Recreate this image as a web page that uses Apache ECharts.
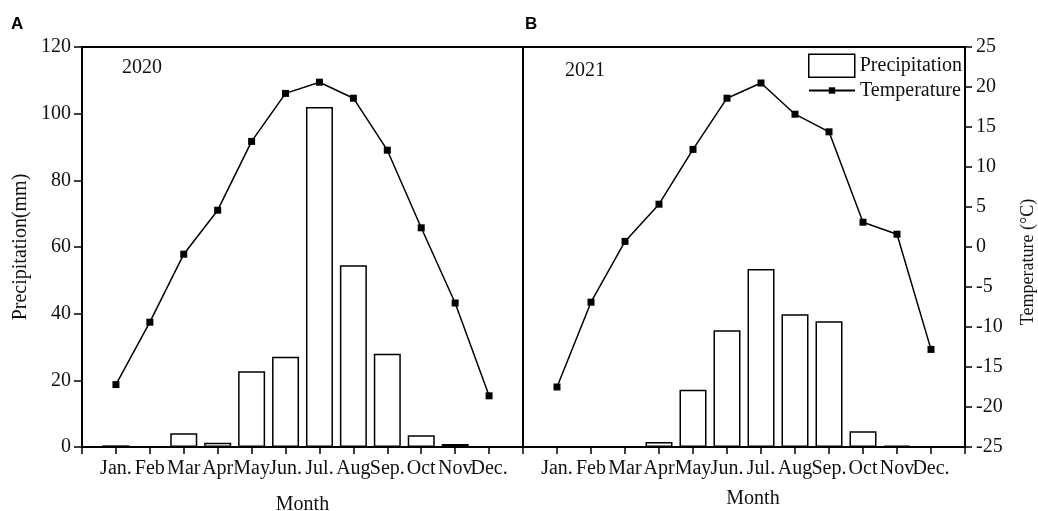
<!DOCTYPE html>
<html>
<head>
<meta charset="utf-8">
<script src="https://cdn.jsdelivr.net/npm/echarts@6/dist/echarts.min.js"></script>
<style>
html,body{margin:0;padding:0;background:#fff;}
#chart{width:1038px;height:511px;}
</style>
</head>
<body>
<div id="chart"></div>
<script>
const months = ['Jan.','Feb','Mar','Apr','May','Jun.','Jul.','Aug','Sep.','Oct','Nov','Dec.'];
const precip2020 = [0.5, 0, 4.1, 1.3, 22.7, 27.1, 102, 54.5, 28, 3.5, 0.9, 0];
const temp2020 = [-17.2, -9.4, -0.9, 4.6, 13.2, 19.2, 20.6, 18.6, 12.1, 2.4, -7.0, -18.6];
const precip2021 = [0, 0, 0, 1.5, 17.2, 35.0, 53.4, 39.8, 37.7, 4.7, 0.4, 0];
const temp2021 = [-17.5, -6.9, 0.7, 5.35, 12.2, 18.6, 20.5, 16.6, 14.4, 3.1, 1.6, -12.8];
const precipTicks = {min: 0, max: 120, interval: 20};
const tempTicks = {min: -25, max: 25, interval: 5};

const FONT = "'Liberation Serif','Times New Roman',serif";
const axisCats = [''].concat(months, ['']);
const pad = arr => [null].concat(arr, [null]);

const chart = echarts.init(document.getElementById('chart'), null, {renderer: 'canvas'});

function xAxisFor(gridIndex, shiftPad, nameGap) {
  return {
    type: 'category', gridIndex: gridIndex, data: axisCats, boundaryGap: false,
    axisLine: {show: true, onZero: false, lineStyle: {color: '#000', width: 2}},
    axisTick: {show: true, interval: 0, length: 7, inside: false, lineStyle: {color: '#000', width: 1.5}},
    axisLabel: {interval: 0, color: '#111', fontFamily: FONT, fontSize: 20, margin: 12},
    splitLine: {show: false},
    name: 'Month', nameLocation: 'middle', nameGap: nameGap,
    nameTextStyle: {color: '#111', fontFamily: FONT, fontSize: 20, padding: [0, 0, 0, shiftPad]}
  };
}

const option = {
  animation: false,
  backgroundColor: '#fff',
  grid: [
    {left: 82, top: 47, width: 441, height: 400, show: true, borderColor: '#000', borderWidth: 2,
     containLabel: false, outerBoundsMode: 'none'},
    {left: 523, top: 47, width: 442, height: 400, show: true, borderColor: '#000', borderWidth: 2,
     containLabel: false, outerBoundsMode: 'none'}
  ],
  xAxis: [xAxisFor(0, 0, 48), xAxisFor(1, 18, 42)],
  yAxis: [
    {
      type: 'value', gridIndex: 0, position: 'left', min: precipTicks.min, max: precipTicks.max, interval: precipTicks.interval,
      axisLine: {show: true, lineStyle: {color: '#000', width: 2}},
      axisTick: {show: true, length: 8, inside: false, lineStyle: {color: '#000', width: 1.5}},
      axisLabel: {color: '#111', fontFamily: FONT, fontSize: 20, margin: 11},
      splitLine: {show: false},
      name: 'Precipitation(mm)', nameLocation: 'middle', nameGap: 51, nameRotate: 90,
      nameTextStyle: {color: '#111', fontFamily: FONT, fontSize: 20}
    },
    {
      type: 'value', gridIndex: 0, position: 'right', min: tempTicks.min, max: tempTicks.max, interval: tempTicks.interval,
      show: false, splitLine: {show: false}
    },
    {
      type: 'value', gridIndex: 1, position: 'left', min: precipTicks.min, max: precipTicks.max, interval: precipTicks.interval,
      show: false, splitLine: {show: false}
    },
    {
      type: 'value', gridIndex: 1, position: 'right', min: tempTicks.min, max: tempTicks.max, interval: tempTicks.interval,
      axisLine: {show: true, lineStyle: {color: '#000', width: 2}},
      axisTick: {show: true, length: 7, inside: false, lineStyle: {color: '#000', width: 1.5}},
      axisLabel: {color: '#111', fontFamily: FONT, fontSize: 20, margin: 11},
      splitLine: {show: false},
      name: 'Temperature (°C)', nameLocation: 'middle', nameGap: 54, nameRotate: 90,
      nameTextStyle: {color: '#111', fontFamily: FONT, fontSize: 18, padding: [0, 30, 0, 0]}
    }
  ],
  legend: [
    {
      data: [{name: 'Precipitation', icon: 'rect'}], left: 808, top: 53.5, orient: 'vertical',
      itemWidth: 46, itemHeight: 23, padding: 0, selectedMode: false,
      itemStyle: {color: '#fff', borderColor: '#000', borderWidth: 1.5},
      textStyle: {color: '#111', fontFamily: FONT, fontSize: 20}
    },
    {
      data: ['Temperature'], left: 808, top: 80.5, orient: 'vertical',
      itemWidth: 46, itemHeight: 8, padding: 0, selectedMode: false,
      textStyle: {color: '#111', fontFamily: FONT, fontSize: 20}
    }
  ],
  graphic: [
    {type: 'text', left: 11, top: 16, style: {text: 'A', font: "bold 17px 'Liberation Sans', Arial, sans-serif", fill: '#000'}},
    {type: 'text', left: 525, top: 16, style: {text: 'B', font: "bold 17px 'Liberation Sans', Arial, sans-serif", fill: '#000'}},
    {type: 'text', left: 122, top: 58, style: {text: '2020', font: "20px " + FONT, fill: '#111'}},
    {type: 'text', left: 565, top: 61, style: {text: '2021', font: "20px " + FONT, fill: '#111'}}
  ],
  series: [
    {
      name: 'Precipitation', type: 'bar', xAxisIndex: 0, yAxisIndex: 0, data: pad(precip2020), barWidth: 27,
      itemStyle: {color: '#fff', borderColor: '#000', borderWidth: 1.5}, z: 2
    },
    {
      name: 'Temperature', type: 'line', xAxisIndex: 0, yAxisIndex: 1, data: pad(temp2020),
      symbol: 'rect', symbolSize: 7, showAllSymbol: true,
      lineStyle: {color: '#000', width: 1.5}, itemStyle: {color: '#000'}, z: 3
    },
    {
      name: 'Precipitation', type: 'bar', xAxisIndex: 1, yAxisIndex: 2, data: pad(precip2021), barWidth: 27,
      itemStyle: {color: '#fff', borderColor: '#000', borderWidth: 1.5}, z: 2
    },
    {
      name: 'Temperature', type: 'line', xAxisIndex: 1, yAxisIndex: 3, data: pad(temp2021),
      symbol: 'rect', symbolSize: 7, showAllSymbol: true,
      lineStyle: {color: '#000', width: 1.5}, itemStyle: {color: '#000'}, z: 3
    }
  ]
};
chart.setOption(option);
</script>
</body>
</html>
